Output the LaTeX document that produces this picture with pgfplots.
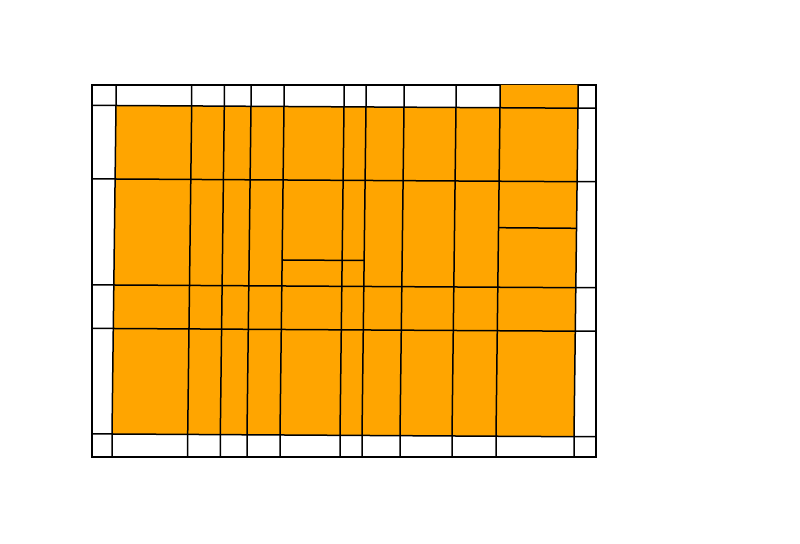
\documentclass[border=0pt]{standalone}
\usepackage{pgfplots}
\pgfplotsset{compat=1.18}
\definecolor{cellorange}{HTML}{FFA500}
\begin{document}
\begin{tikzpicture}
\begin{axis}[
  width=400pt, height=272pt, scale only axis,
  xmin=0, xmax=800, ymin=0, ymax=544, y dir=reverse,
  hide axis, clip=false,
]
% invisible frame spanning the whole canvas
\addplot[draw=none, forget plot] coordinates {(0,0) (800,0) (800,544) (0,544)} --cycle;
% outer frame (white border cells)
\addplot[draw=black, line width=0.8pt, fill=white] coordinates {(92,85) (596,85) (596,457) (92,457)} --cycle;
% interior tiles (orange)
\addplot[draw=none, fill=cellorange] coordinates {(116,105.5) (578,108.2) (574,436.7) (112,434)} --cycle;
% top-right border tile (orange)
\addplot[draw=none, fill=cellorange] coordinates {(500,85) (578,85) (578,108.2) (500,107.7)} --cycle;
% row boundaries
\addplot[black, line width=0.75pt] coordinates {(92,105.5) (116,105.5) (578,108.2) (596,108.2)};
\addplot[black, line width=0.75pt] coordinates {(92,179) (115.1,179) (577.1,181.7) (596,181.7)};
\addplot[black, line width=0.75pt] coordinates {(92,285) (113.8,285) (575.8,287.7) (596,287.7)};
\addplot[black, line width=0.75pt] coordinates {(92,328.5) (113.3,328.5) (575.3,331.2) (596,331.2)};
\addplot[black, line width=0.75pt] coordinates {(92,434) (112,434) (574,436.7) (596,436.7)};
% column boundaries
\addplot[black, line width=0.75pt] coordinates {(116,85) (116,105.5) (112,434) (112,457)};
\addplot[black, line width=0.75pt] coordinates {(191.7,85) (191.7,105.9) (187.7,434.4) (187.7,457)};
\addplot[black, line width=0.75pt] coordinates {(224.3,85) (224.3,106.1) (220.3,434.6) (220.3,457)};
\addplot[black, line width=0.75pt] coordinates {(251,85) (251,106.3) (247,434.8) (247,457)};
\addplot[black, line width=0.75pt] coordinates {(284,85) (284,106.5) (280,435.0) (280,457)};
\addplot[black, line width=0.75pt] coordinates {(344,85) (344,106.8) (340,435.3) (340,457)};
\addplot[black, line width=0.75pt] coordinates {(366,85) (366,107.0) (362,435.5) (362,457)};
\addplot[black, line width=0.75pt] coordinates {(404,85) (404,107.2) (400,435.7) (400,457)};
\addplot[black, line width=0.75pt] coordinates {(456,85) (456,107.5) (452,436.0) (452,457)};
\addplot[black, line width=0.75pt] coordinates {(500,85) (500,107.7) (496,436.2) (496,457)};
\addplot[black, line width=0.75pt] coordinates {(578,85) (578,108.2) (574,436.7) (574,457)};
% extra splits
\addplot[black, line width=0.75pt] coordinates {(282.1,260) (364.1,260.5)};
\addplot[black, line width=0.75pt] coordinates {(498.5,227.7) (576.5,228.3)};
\end{axis}
\end{tikzpicture}
\end{document}
